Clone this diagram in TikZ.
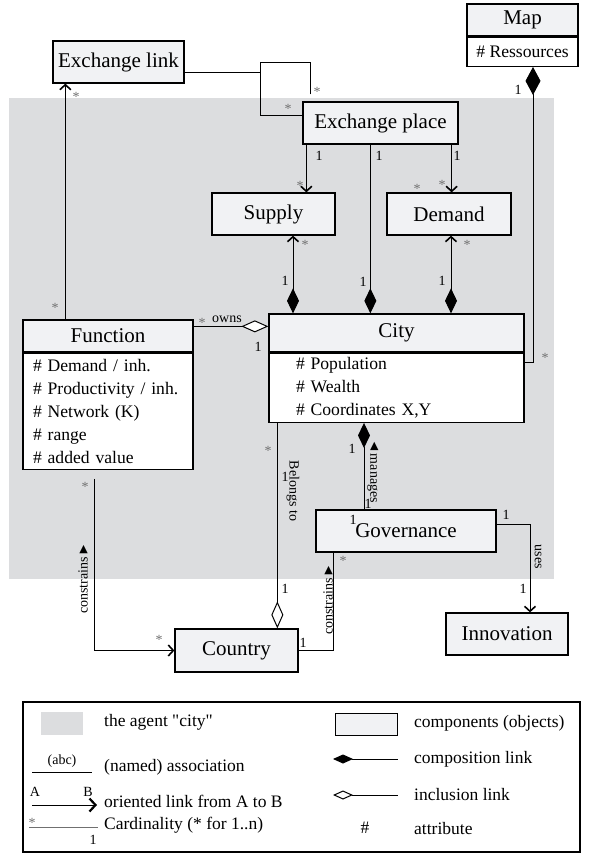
\documentclass[tikz,border=0pt]{standalone}
\usepackage{fontspec}
\setmainfont{Liberation Serif}[Ligatures=TeXOff]
\usetikzlibrary{calc,arrows.meta}
\definecolor{agentgray}{HTML}{DCDDDF}
\definecolor{objfill}{HTML}{F1F2F4}
\definecolor{cardgray}{HTML}{707070}
\newcommand\ttlfont{\fontsize{21}{25}\selectfont}
\newcommand\atrfont{\fontsize{17.6}{23}\selectfont}
\newcommand\lblfont{\fontsize{14}{16}\selectfont}
\newcommand\legfont{\fontsize{17.5}{21}\selectfont}
\tikzset{
  obj/.style={draw, line width=1.3pt, fill=objfill, inner sep=0pt, font=\ttlfont},
  objattr/.style={draw, line width=1.3pt, fill=white, anchor=north, align=left, font=\atrfont},
  lnk/.style={line width=1pt},
  card/.style={font=\lblfont, inner sep=0pt},
  star/.style={font=\lblfont, text=cardgray, inner sep=0pt},
  lbl/.style={font=\lblfont, inner sep=0pt},
  legtxt/.style={font=\legfont, anchor=west, inner sep=0pt},
  >={Straight Barb[length=5pt,width=11pt,line width=1.6pt]},
  cdiam/.tip={Diamond[length=25pt,width=12pt]},
  odiam/.tip={Diamond[fill=white,length=27pt,width=12pt]},
}
\begin{document}
\begin{tikzpicture}[x=1pt,y=-1pt]
    \useasboundingbox (0,0) rectangle (591,857);
    % the agent "city"
    \fill[agentgray] (9,98) rectangle (554,579);

    \node[obj, minimum width=131pt, minimum height=42pt] (exl) at (118.5,62) {Exchange link};
    \node[obj, minimum width=111pt, minimum height=32pt] (map) at (522.5,20) {Map};
    \node[objattr, align=center, inner sep=0pt, minimum width=111pt, minimum height=29pt] (mapat) at (map.south) {\# Ressources};
    \node[obj, minimum width=155pt, minimum height=42pt] (exp) at (380.5,123) {Exchange place};
    \node[obj, minimum width=123pt, minimum height=42pt] (sup) at (273.5,214) {Supply};
    \node[obj, minimum width=124pt, minimum height=42pt] (dem) at (449,214) {Demand};
    \node[obj, minimum width=170pt, minimum height=32pt] (fun) at (108,336) {Function};
    \node[objattr, minimum width=170pt, minimum height=116pt, text width=150pt, inner xsep=10pt, inner ysep=0pt] (funat) at (fun.south)
        {\# Demand / inh.\\ \# Productivity / inh.\\ \# Network (K)\\ \# range\\ \# added value};
    \node[obj, minimum width=255pt, minimum height=38pt] (city) at (396.5,333) {City};
    \node[objattr, minimum width=255pt, minimum height=69pt, text width=201pt, inner xsep=27pt, inner ysep=0pt] (cityat) at (city.south)
        {\# Population\\ \# Wealth\\ \# Coordinates X,Y};
    \node[obj, minimum width=180pt, minimum height=42pt] (gov) at (406,531) {Governance};
    \node[obj, minimum width=123pt, minimum height=43pt] (cty) at (236.5,650.5) {Country};
    \node[obj, minimum width=122pt, minimum height=42pt] (inn) at (507,634) {Innovation};

    % ports
    \coordinate (el) at ($(exl.south west)+(13,0)$);
    \coordinate (lp) at (260,62);
    \coordinate (es) at ($(exp.south west)+(4,0)$);
    \coordinate (ec) at ($(exp.south west)+(68,0)$);
    \coordinate (ed) at ($(exp.south east)+(-7,0)$);
    \coordinate (sc) at ($(sup.south)+(19.5,0)$);
    \coordinate (dc) at ($(dem.south)+(2,0)$);
    \coordinate (ow) at ($(fun.north east)+(0,7)$);
    \coordinate (mp) at ($(mapat.south)+(10.5,0)$);
    \coordinate (bl) at ($(cityat.south west)+(9,0)$);
    \coordinate (mg) at ($(cityat.south)+(-32.5,0)$);
    \coordinate (us) at ($(inn.north)+(23,0)$);
    \coordinate (cs) at ($(gov.south west)+(18,0)$);
    \coordinate (fc) at ($(funat.south)+(-14,9)$);

    \draw[lnk,->] (el |- fun.north) -- (el);
    \draw[lnk] ($(exp.north west)+(8,-7)$) |- (lp) |- ($(exp.west)+(0,-8)$);
    \draw[lnk] ($(exl.east)+(0,10)$) -| (lp);
    \draw[lnk,->] (es) -- (es |- sup.north);
    \draw[lnk,-cdiam] (ec) -- (ec |- city.north);
    \draw[lnk,->] (ed) -- (ed |- dem.north);
    \draw[lnk,<-cdiam] (sc) -- (sc |- city.north);
    \draw[lnk,<-cdiam] (dc) -- (dc |- city.north);
    \draw[lnk,-odiam] (ow) -- (ow -| city.west);
    \draw[lnk,{Diamond[length=28pt,width=15pt]}-] (mp) |- ($(cityat.north east)+(0,10)$);
    \draw[lnk,-odiam] (bl) -- (bl |- cty.north);
    \draw[lnk,cdiam-] (mg) -- (mg |- gov.north);
    \draw[lnk,->] ($(gov.east)+(0,-7)$) -| (us);
    \draw[lnk] (cs) |- (cty.east);
    \draw[lnk,->] (fc) |- (cty.west);

    % cardinalities
    \node[star] (s1) at (76,97) {*};
    \node[star] (s2) at (55,308) {*};
    \node[star] (s3) at (317,92) {*};
    \node[star] (s4) at (288,109) {*};
    \node[card] (n1) at (319,156) {1};
    \node[star] (s5) at (300,186) {*};
    \node[card] (n2) at (379,156) {1};
    \node[card] (n3) at (363,282) {1};
    \node[card] (n4) at (457,156) {1};
    \node[star] (s6) at (442,185) {*};
    \node[star] (s7) at (417,189) {*};
    \node[star] (s8) at (305,245) {*};
    \node[card] (n5) at (285,281) {1};
    \node[star] (s9) at (467,245) {*};
    \node[card] (n6) at (442,281) {1};
    \node[star] (s10) at (202,323) {*};
    \node[lbl] (lown) at (227,319) {owns};
    \node[card] (n7) at (258,347) {1};
    \node[card] (n8) at (518,90) {1};
    \node[star] (s11) at (545,358) {*};
    \node[star] (s12) at (268,451) {*};
    \node[card] (n9) at (285,477) {1};
    \node[card] (n10) at (285,589) {1};
    \node[card] (n11) at (352,449) {1};
    \node[card] (n12) at (368,504) {1};
    \node[card] (n13) at (353,520) {1};
    \node[card] (n14) at (506,515) {1};
    \node[card] (n15) at (523,589) {1};
    \node[star] (s13) at (343,561) {*};
    \node[card] (n16) at (303,643) {1};
    \node[star] (s14) at (85,487) {*};
    \node[star] (s15) at (159,640) {*};

    \node[lbl, rotate=-90] (lbel) at (293,491) {Belongs to};
    \node[lbl, rotate=-90] (lman) at (373,471) {◄\kern1pt manages};
    \node[lbl, rotate=-90] (luse) at (538,557) {uses};
    \node[lbl, rotate=90] (lcon1) at (83,578) {constrains\kern1pt ►};
    \node[lbl, rotate=90] (lcon2) at (328,599) {constrains\kern1pt ►};

    % legend
    \node[draw, line width=1.3pt, minimum width=557pt, minimum height=150pt, inner sep=0pt] (leg) at (301.5,777) {};
    \node[fill=agentgray, minimum width=42pt, minimum height=23pt, inner sep=0pt] (lgagent) at (62,723.5) {};
    \node[legtxt] (lt1) at (104,722) {the agent "city"};
    \node[lbl] (lgabc) at (62,761) {(abc)};
    \draw[lnk] (32,772) -- (92,772);
    \node[legtxt] (lt2) at (104,767) {(named) association};
    \node[lbl] (lga) at (35,792) {A};
    \node[lbl] (lgb) at (88,792) {B};
    \draw[lnk,-{Straight Barb[length=6pt,width=13pt,line width=2.2pt]}] (32,805) -- (97,805);
    \node[legtxt] (lt3) at (104,801) {oriented link from A to B};
    \node[star] (lgs) at (32,823) {*};
    \draw[cardgray, line width=0.7pt] (29,827) -- (98,827);
    \node[card] (lg1) at (93,840) {1};
    \node[legtxt] (lt4) at (104,825) {Cardinality (* for 1..n)};

    \node[obj, line width=1pt, minimum width=62pt, minimum height=22pt] (lgobj) at (366,724) {};
    \node[legtxt] (lt5) at (414,723) {components (objects)};
    \draw[lnk,{Diamond[length=20pt,width=9pt]}-] (333,759) -- (398,759);
    \node[legtxt] (lt6) at (414,759) {composition link};
    \draw[lnk,{Diamond[fill=white,length=20pt,width=9pt]}-] (333,795) -- (398,795);
    \node[legtxt] (lt7) at (414,795) {inclusion link};
    \node[lbl, font=\legfont] (lghash) at (365,828) {\#};
    \node[legtxt] (lt8) at (414,829) {attribute};
\end{tikzpicture}
\end{document}
